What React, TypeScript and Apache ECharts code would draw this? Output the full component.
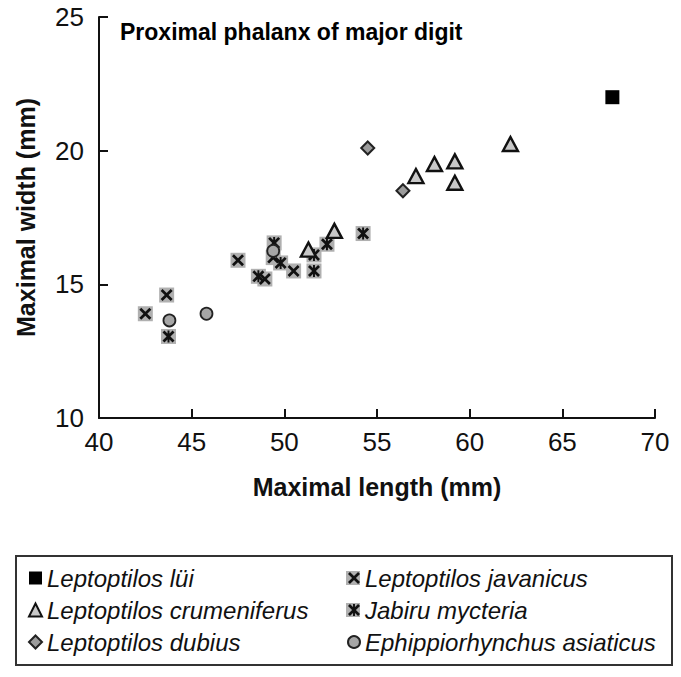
import React, { useEffect, useRef } from "react";
import * as echarts from "echarts";

const FONT = "'Liberation Sans', Arial, Helvetica, sans-serif";

// X axis: maximal length (mm); Y axis: maximal width (mm)
const xTicks = { min: 40, max: 70, step: 5 };
const yTicks = { min: 10, max: 25, step: 5 };

const luiData = [[67.7, 22.0]];
const crumeniferusData = [
  [51.3, 16.3],
  [52.7, 17.0],
  [57.1, 19.05],
  [58.1, 19.5],
  [59.2, 19.6],
  [59.2, 18.8],
  [62.2, 20.25],
];
const dubiusData = [
  [54.5, 20.1],
  [56.4, 18.5],
];
const javanicusData = [
  [42.5, 13.9],
  [43.65, 14.6],
  [47.5, 15.9],
  [48.95, 15.2],
  [49.4, 16.0],
  [50.5, 15.5],
];
const mycteriaData = [
  [43.75, 13.05],
  [48.6, 15.3],
  [49.45, 16.55],
  [49.8, 15.8],
  [51.6, 16.1],
  [51.6, 15.5],
  [52.3, 16.5],
  [54.25, 16.9],
];
const asiaticusData = [
  [43.8, 13.65],
  [45.8, 13.9],
  [49.4, 16.25],
];

const names = {
  lui: "Leptoptilos lüi",
  crum: "Leptoptilos crumeniferus",
  dub: "Leptoptilos dubius",
  jav: "Leptoptilos javanicus",
  myc: "Jabiru mycteria",
  asi: "Ephippiorhynchus asiaticus",
};

const X_PATH =
  "path://M1.6,0 L5,3.4 L8.4,0 L10,1.6 L6.6,5 L10,8.4 L8.4,10 L5,6.6 L1.6,10 L0,8.4 L3.4,5 L0,1.6 Z";
const STAR_PATH =
  "path://M1.6,0 L5,3.4 L8.4,0 L10,1.6 L6.6,5 L10,8.4 L8.4,10 L5,6.6 L1.6,10 L0,8.4 L3.4,5 L0,1.6 Z M4.2,0 L5.8,0 L5.8,10 L4.2,10 Z";

const GRAY_BG = "#b0b0b0";
const INK = "#111";

export default function App() {
  const ref = useRef<HTMLDivElement>(null);
  useEffect(() => {
    if (!ref.current) return;
    const chart = echarts.init(ref.current, null, { renderer: "svg" });
    const LEG_FS = 24;
    const legendText = {
      fontFamily: FONT,
      fontSize: LEG_FS,
      fontStyle: "italic",
      color: "#111",
    };
    const legendTop = 566;
    const rowStep = 32;
    const leg2Left = 347;
    const option: any = {
      animation: false,
      backgroundColor: "#fff",
      title: {
        text: "Proximal phalanx of major digit",
        left: 120,
        top: 20,
        padding: 0,
        textStyle: { fontFamily: FONT, fontSize: 23, fontWeight: "bold", color: "#000" },
      },
      grid: { left: 99, top: 17, width: 556, height: 401 },
      xAxis: {
        type: "value",
        min: xTicks.min,
        max: xTicks.max,
        interval: xTicks.step,
        axisLine: { lineStyle: { color: INK, width: 2 } },
        axisTick: { inside: true, length: 9, lineStyle: { color: INK, width: 2 } },
        splitLine: { show: false },
        axisLabel: { fontFamily: FONT, fontSize: 26, color: INK, margin: 11 },
        name: "Maximal length (mm)",
        nameLocation: "middle",
        nameGap: 56,
        nameTextStyle: { fontFamily: FONT, fontSize: 25, fontWeight: "bold", color: INK },
      },
      yAxis: {
        type: "value",
        min: yTicks.min,
        max: yTicks.max,
        interval: yTicks.step,
        axisLine: { lineStyle: { color: INK, width: 2 } },
        axisTick: { inside: true, length: 9, lineStyle: { color: INK, width: 2 } },
        splitLine: { show: false },
        axisLabel: { fontFamily: FONT, fontSize: 26, color: INK, margin: 15 },
        name: "Maximal width (mm)",
        nameLocation: "middle",
        nameGap: 61,
        nameTextStyle: { fontFamily: FONT, fontSize: 25, fontWeight: "bold", color: INK },
      },
      legend: [
        {
          orient: "vertical",
          left: 28,
          top: legendTop,
          padding: 0,
          itemGap: rowStep - LEG_FS,
          itemWidth: 13,
          itemHeight: 13,
          selectedMode: false,
          textStyle: legendText,
          data: [names.lui, names.crum, names.dub],
        },
        {
          orient: "vertical",
          left: leg2Left,
          top: legendTop,
          padding: 0,
          itemGap: rowStep - LEG_FS,
          itemWidth: 12,
          itemHeight: 12,
          selectedMode: false,
          textStyle: legendText,
          data: [names.jav, names.myc, names.asi],
        },
      ],
      graphic: [
        {
          type: "rect",
          shape: { x: 16, y: 556, width: 656, height: 109 },
          style: { fill: "none", stroke: "#333", lineWidth: 2 },
        },
        {
          type: "rect",
          z: 0,
          shape: { x: leg2Left - 1, y: legendTop + LEG_FS / 2 - 7, width: 14, height: 14 },
          style: { fill: GRAY_BG },
        },
        {
          type: "rect",
          z: 0,
          shape: { x: leg2Left - 1, y: legendTop + LEG_FS / 2 + rowStep - 7, width: 14, height: 14 },
          style: { fill: GRAY_BG },
        },
      ],
      series: [
        {
          name: "javanicus-bg",
          type: "scatter",
          data: javanicusData,
          symbol: "rect",
          symbolSize: 15,
          itemStyle: { color: GRAY_BG, opacity: 1 },
          z: 1,
        },
        {
          name: "mycteria-bg",
          type: "scatter",
          data: mycteriaData,
          symbol: "rect",
          symbolSize: 15,
          itemStyle: { color: GRAY_BG, opacity: 1 },
          z: 1,
        },
        {
          name: names.jav,
          type: "scatter",
          data: javanicusData,
          symbol: X_PATH,
          symbolSize: 12,
          itemStyle: { color: INK, opacity: 1 },
          z: 2,
        },
        {
          name: names.myc,
          type: "scatter",
          data: mycteriaData,
          symbol: STAR_PATH,
          symbolSize: 12,
          itemStyle: { color: INK, opacity: 1 },
          z: 2,
        },
        {
          name: names.asi,
          type: "scatter",
          data: asiaticusData,
          symbol: "circle",
          symbolSize: 12,
          itemStyle: { color: "#a6a6a6", borderColor: "#222", borderWidth: 1.8, opacity: 1 },
          z: 3,
        },
        {
          name: names.dub,
          type: "scatter",
          data: dubiusData,
          symbol: "diamond",
          symbolSize: 13,
          itemStyle: { color: "#9c9c9c", borderColor: "#222", borderWidth: 2, opacity: 1 },
          z: 3,
        },
        {
          name: names.crum,
          type: "scatter",
          data: crumeniferusData,
          symbol: "triangle",
          symbolSize: [15, 14],
          itemStyle: { color: "#c8c8c8", borderColor: "#111", borderWidth: 2.4, opacity: 1 },
          z: 3,
        },
        {
          name: names.lui,
          type: "scatter",
          data: luiData,
          symbol: "rect",
          symbolSize: 14,
          itemStyle: { color: "#000", opacity: 1 },
          z: 3,
        },
      ],
    };
    chart.setOption(option);
    return () => chart.dispose();
  }, []);
  return (
    <div
      ref={ref}
      style={{ position: "absolute", left: 0, top: 0, width: 681, height: 677 }}
    />
  );
}
